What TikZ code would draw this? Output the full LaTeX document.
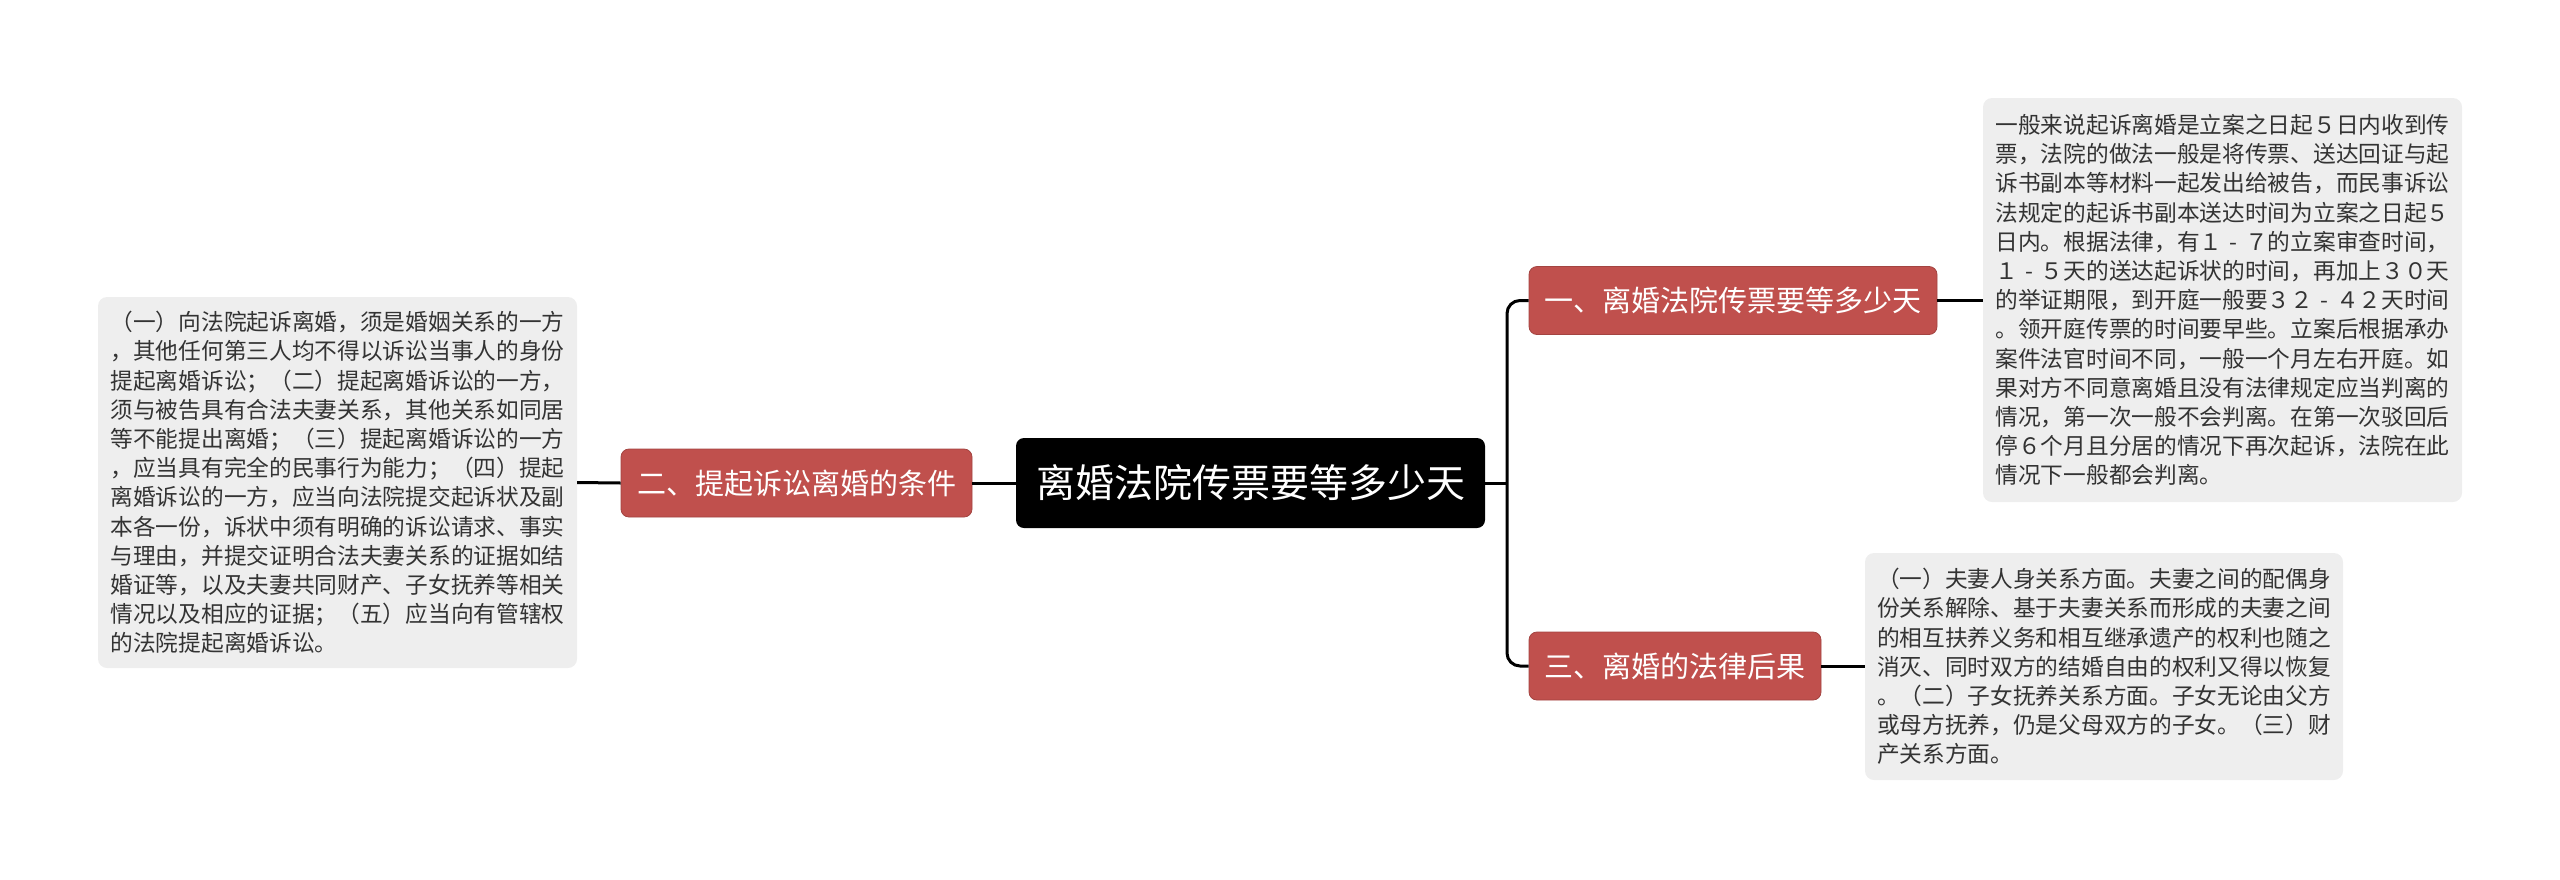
\documentclass[tikz,border=0pt]{standalone}
\usepackage{fontspec}
\setmainfont{Noto Sans CJK SC}
\definecolor{nodered}{HTML}{C0504D}
\definecolor{boxgray}{HTML}{EEEEEE}
\definecolor{txtgray}{HTML}{333333}
\newcommand\fwdash{\makebox[1em][c]{-}}
\begin{document}
\begin{tikzpicture}[x=1pt,y=-1pt,
  rootbox/.style={fill=black,rounded corners=8pt,text=white,minimum width=469pt,minimum height=90pt,inner sep=0pt,font={\fontsize{39}{44}\selectfont}},
  topicbox/.style={fill=nodered,draw=nodered!85!black,line width=0.8pt,rounded corners=8pt,text=white,minimum height=68pt,inner sep=0pt,font={\fontsize{29}{34}\selectfont}},
  notebox/.style={fill=boxgray,rounded corners=9pt,text=txtgray,align=left,inner sep=0pt,font={\fontsize{22.7}{29.2}\selectfont}},
  link/.style={line width=3pt,draw=black}]
\useasboundingbox (0,0) rectangle (2560,879);
\node[rootbox] (root) at (1250.5,483) {离婚法院传票要等多少天};
\node[topicbox,minimum width=351pt] (t2) at (796.5,483) {二、提起诉讼离婚的条件};
\node[topicbox,minimum width=408pt] (t1) at (1733,300.5) {一、离婚法院传票要等多少天};
\node[topicbox,minimum width=292pt] (t3) at (1675,666) {三、离婚的法律后果};
\node[notebox,minimum width=479pt,minimum height=371pt] (n2) at (337.5,482.5) {（一）向法院起诉离婚，须是婚姻关系的一方\\，其他任何第三人均不得以诉讼当事人的身份\\提起离婚诉讼；（二）提起离婚诉讼的一方，\\须与被告具有合法夫妻关系，其他关系如同居\\等不能提出离婚；（三）提起离婚诉讼的一方\\，应当具有完全的民事行为能力；（四）提起\\离婚诉讼的一方，应当向法院提交起诉状及副\\本各一份，诉状中须有明确的诉讼请求、事实\\与理由，并提交证明合法夫妻关系的证据如结\\婚证等，以及夫妻共同财产、子女抚养等相关\\情况以及相应的证据；（五）应当向有管辖权\\的法院提起离婚诉讼。};
\node[notebox,minimum width=479pt,minimum height=404pt] (n1) at (2222.5,300) {一般来说起诉离婚是立案之日起５日内收到传\\票，法院的做法一般是将传票、送达回证与起\\诉书副本等材料一起发出给被告，而民事诉讼\\法规定的起诉书副本送达时间为立案之日起５\\日内。根据法律，有１\fwdash ７的立案审查时间，\\１\fwdash ５天的送达起诉状的时间，再加上３０天\\的举证期限，到开庭一般要３２\fwdash ４２天时间\\。领开庭传票的时间要早些。立案后根据承办\\案件法官时间不同，一般一个月左右开庭。如\\果对方不同意离婚且没有法律规定应当判离的\\情况，第一次一般不会判离。在第一次驳回后\\停６个月且分居的情况下再次起诉，法院在此\\情况下一般都会判离。};
\node[notebox,minimum width=478pt,minimum height=227pt] (n3) at (2104,666.5) {（一）夫妻人身关系方面。夫妻之间的配偶身\\份关系解除、基于夫妻关系而形成的夫妻之间\\的相互扶养义务和相互继承遗产的权利也随之\\消灭、同时双方的结婚自由的权利又得以恢复\\。（二）子女抚养关系方面。子女无论由父方\\或母方抚养，仍是父母双方的子女。（三）财\\产关系方面。};
\coordinate (sp) at (1507,483);
\draw[link] (root.east) -- (sp);
\draw[link,rounded corners=13pt] (t1.west) -| (sp) |- (t3.west);
\draw[link] (t2.east) -- (root.west);
\draw[link] (n2.east) -- (t2.west);
\draw[link] (t1.east) -- (t1.east -| n1.west);
\draw[link] (t3.east) -- (t3.east -| n3.west);
\end{tikzpicture}
\end{document}
